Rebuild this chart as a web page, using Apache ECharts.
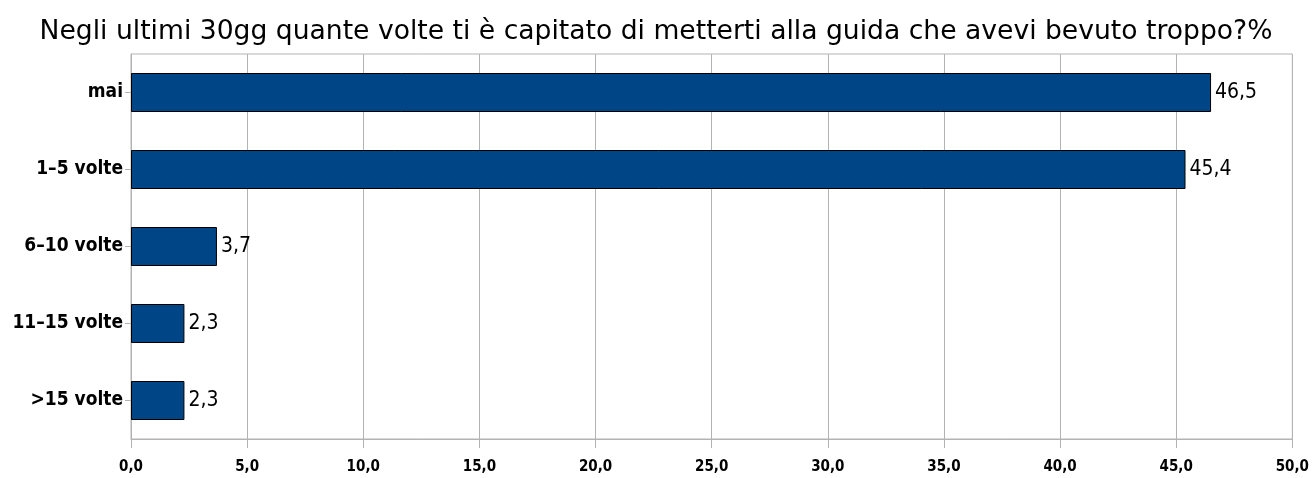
<!DOCTYPE html>
<html>
<head>
<meta charset="utf-8">
<script src="https://cdn.jsdelivr.net/npm/echarts@6/dist/echarts.min.js"></script>
<style>
html, body { margin: 0; padding: 0; background: #fff; }
#chart { width: 1312px; height: 478px; }
</style>
</head>
<body>
<div id="chart"></div>
<script>
const categories = ['mai', '1–5 volte', '6–10 volte', '11–15 volte', '>15 volte'];
const values = [46.5, 45.4, 3.7, 2.3, 2.3];
const titleText = 'Negli ultimi 30gg quante volte ti è capitato di metterti alla guida che avevi bevuto troppo?%';

const fmt = v => v.toFixed(1).replace('.', ',');

const chart = echarts.init(document.getElementById('chart'), null, { renderer: 'canvas' });

const option = {
    animation: false,
    backgroundColor: '#fff',
    title: {
        text: titleText,
        left: 'center',
        top: 14,
        textStyle: {
            fontFamily: 'DejaVu Sans',
            fontSize: 26.6,
            fontWeight: 'normal',
            color: '#000'
        }
    },
    grid: {
        left: 131, right: 19, top: 54, bottom: 39, containLabel: false,
        show: true, borderColor: '#b3b3b3', borderWidth: 1
    },
    xAxis: {
        type: 'value',
        min: 0,
        max: 50,
        interval: 5,
        axisLine: { show: true, lineStyle: { color: '#b3b3b3', width: 1 } },
        axisTick: { show: true, length: 9, lineStyle: { color: '#b3b3b3' } },
        splitLine: { show: true, lineStyle: { color: '#b3b3b3', width: 1 } },
        axisLabel: {
            formatter: fmt,
            margin: 21,
            fontFamily: 'DejaVu Sans Condensed, DejaVu Sans',
            fontSize: 15,
            fontWeight: 'bold',
            color: '#000'
        }
    },
    yAxis: {
        type: 'category',
        data: categories,
        inverse: true,
        axisLine: { show: true, lineStyle: { color: '#b3b3b3', width: 1 } },
        axisTick: { show: true, alignWithLabel: true, length: 6, lineStyle: { color: '#b3b3b3' } },
        splitLine: { show: false },
        axisLabel: {
            margin: 8,
            fontFamily: 'DejaVu Sans Condensed, DejaVu Sans',
            fontSize: 19,
            fontWeight: 'bold',
            color: '#000'
        }
    },
    series: [{
        type: 'bar',
        data: values,
        barWidth: 39,
        itemStyle: { color: '#004586', borderColor: '#000', borderWidth: 1 },
        label: {
            show: true,
            position: 'right',
            distance: 4,
            formatter: p => fmt(p.value),
            fontFamily: 'DejaVu Sans Condensed, DejaVu Sans',
            fontSize: 21,
            color: '#000'
        }
    }]
};

chart.setOption(option);
</script>
</body>
</html>
